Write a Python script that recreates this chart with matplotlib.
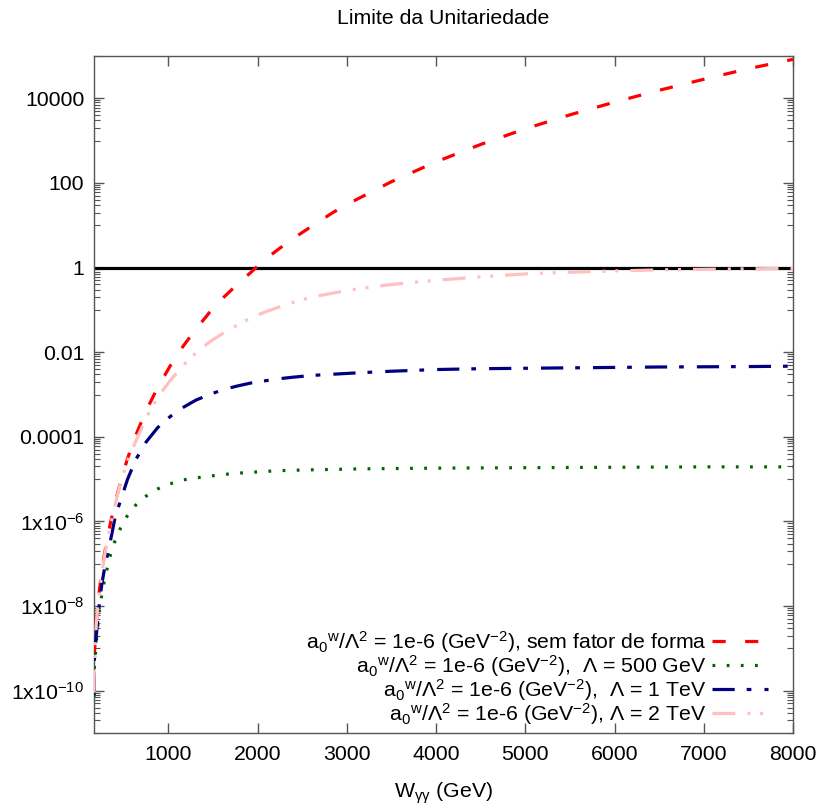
import matplotlib
matplotlib.use("Agg")
import matplotlib.pyplot as plt
import numpy as np
from matplotlib.ticker import FixedLocator, FixedFormatter, NullFormatter

plt.rcParams['font.family'] = ['Liberation Sans', 'DejaVu Sans']
plt.rcParams['mathtext.fontset'] = 'custom'
plt.rcParams['mathtext.rm'] = 'Liberation Sans'
plt.rcParams['mathtext.it'] = 'Liberation Sans:italic'
plt.rcParams['mathtext.bf'] = 'Liberation Sans:bold'
plt.rcParams['lines.scale_dashes'] = False

# photon-photon invariant mass (GeV)
w_gev = [165, 170, 180, 195, 210, 230, 255, 280, 315, 350, 400, 460, 540, 630,
         750, 880, 1020, 1160, 1310, 1460, 1620, 1770, 1920, 2070, 2230, 2400,
         2600, 2850, 3100, 3500, 4000, 4500, 5000, 5500, 6000, 6500, 7000, 7500, 8000]

# log10 of the partial-wave amplitude for each scenario
log_no_ff = [-10.0, -9.1, -8.75, -8.25, -7.9, -7.55, -7.15, -6.80, -6.40, -6.03,
             -5.58, -5.08, -4.52, -3.98, -3.38, -2.83, -2.32, -1.87, -1.45, -1.06,
             -0.70, -0.40, -0.12, 0.17, 0.43, 0.69, 0.97, 1.31, 1.60, 2.03, 2.50,
             2.91, 3.28, 3.61, 3.91, 4.19, 4.45, 4.70, 4.92]
log_ff_500 = [-10.15, -9.4, -9.15, -8.74, -8.41, -8.02, -7.70, -7.42, -7.09, -6.78,
              -6.46, -6.17, -5.86, -5.62, -5.40, -5.23, -5.11, -5.02, -4.97, -4.93,
              -4.89, -4.86, -4.84, -4.82, -4.80, -4.79, -4.78, -4.77, -4.76, -4.75,
              -4.74, -4.735, -4.73, -4.725, -4.72, -4.715, -4.71, -4.71, -4.71]
log_ff_1000 = [-10.1, -9.25, -8.95, -8.6, -8.25, -7.85, -7.45, -7.15, -6.8, -6.45,
               -5.92, -5.52, -5.01, -4.55, -4.12, -3.78, -3.52, -3.31, -3.13, -3.0,
               -2.88, -2.80, -2.73, -2.68, -2.63, -2.59, -2.55, -2.52, -2.49, -2.45,
               -2.41, -2.39, -2.38, -2.37, -2.36, -2.35, -2.345, -2.34, -2.33]
log_ff_2000 = [-10.05, -9.15, -8.8, -8.3, -7.95, -7.6, -7.2, -6.85, -6.45, -6.1,
               -5.62, -5.10, -4.57, -4.12, -3.55, -3.06, -2.67, -2.32, -2.01, -1.76,
               -1.54, -1.36, -1.19, -1.06, -0.94, -0.82, -0.70, -0.60, -0.51, -0.40,
               -0.30, -0.22, -0.15, -0.11, -0.08, -0.055, -0.04, -0.03, -0.02]

unitarity_limit = 1.0

labels = [
    r'a$_0$$^{\mathrm{w}}$/Λ$^{2}$ = 1e-6 (GeV$^{-2}$), sem fator de forma',
    r'a$_0$$^{\mathrm{w}}$/Λ$^{2}$ = 1e-6 (GeV$^{-2}$),  Λ = 500 GeV',
    r'a$_0$$^{\mathrm{w}}$/Λ$^{2}$ = 1e-6 (GeV$^{-2}$),  Λ = 1 TeV',
    r'a$_0$$^{\mathrm{w}}$/Λ$^{2}$ = 1e-6 (GeV$^{-2}$), Λ = 2 TeV',
]

xticks = [1000, 2000, 3000, 4000, 5000, 6000, 7000, 8000]
ytick_vals = [1e-10, 1e-8, 1e-6, 1e-4, 1e-2, 1, 100, 10000]
ytick_labels = [r'1x10$^{-10}$', r'1x10$^{-8}$', r'1x10$^{-6}$', '0.0001',
                '0.01', '1', '100', '10000']

FS = 15.3
W, H = 821, 808
fig = plt.figure(figsize=(W / 100, H / 100), dpi=100)
ax = fig.add_axes([94 / W, 1 - 733 / H, (793 - 94) / W, (733 - 56) / H])

lw = 2.3
ax.axhline(unitarity_limit, color='black', lw=2.3, zorder=2)

w = np.array(w_gev)
styles = [
    dict(color='#ff0000', dashes=(9.5, 14.0)),
    dict(color='#006400', dashes=(2.0, 8.2)),
    dict(color='#000080', dashes=(16.0, 8.6, 3.4, 9.4)),
    dict(color='#ffc0c0', dashes=(16.5, 8.6, 2.2, 7.0, 2.2, 8.6)),
]
series = [log_no_ff, log_ff_500, log_ff_1000, log_ff_2000]
for vals, st, lab in zip(series, styles, labels):
    ax.plot(w, 10.0 ** np.array(vals), color=st['color'], lw=lw,
            dashes=st['dashes'], label=lab, zorder=3,
            solid_capstyle='butt', dash_capstyle='butt')

ax.set_yscale('log')
ax.set_xlim(165, 8000)
ax.set_ylim(1e-11, 1e5)

ax.xaxis.set_major_locator(FixedLocator(xticks))
ax.set_xticklabels([str(t) for t in xticks])
ax.yaxis.set_major_locator(FixedLocator(ytick_vals))
ax.yaxis.set_major_formatter(FixedFormatter(ytick_labels))
minor = [10.0 ** (e - 1) * k for e in range(-10, 7, 2) for k in range(1, 10)]
ax.yaxis.set_minor_locator(FixedLocator(minor))
ax.yaxis.set_minor_formatter(NullFormatter())

frame_col = '#555555'
for sp in ax.spines.values():
    sp.set_color(frame_col)
    sp.set_linewidth(1.0)
ax.tick_params(which='major', direction='in', length=7, width=1.0,
               color=frame_col, top=True, right=True, labelsize=FS, pad=7)
ax.tick_params(which='minor', direction='in', length=4, width=0.8,
               color=frame_col, top=True, right=True)
ax.tick_params(axis='x', pad=9)

fig.text(443 / W, 1 - 18 / H, 'Limite da Unitariedade', ha='center',
         va='center', fontsize=FS)
fig.text(443 / W, 1 - 793 / H, r'W$_{\mathrm{γγ}}$ (GeV)', ha='center',
         va='center', fontsize=FS)

leg = ax.legend(loc='lower right', bbox_to_anchor=((768 - 94) / 699, 0.009),
                frameon=False, markerfirst=False, fontsize=FS,
                handlelength=2.65, handletextpad=0.25, labelspacing=-0.09,
                borderaxespad=0.0, borderpad=0.0)

fig.savefig('out.png', dpi=100)
